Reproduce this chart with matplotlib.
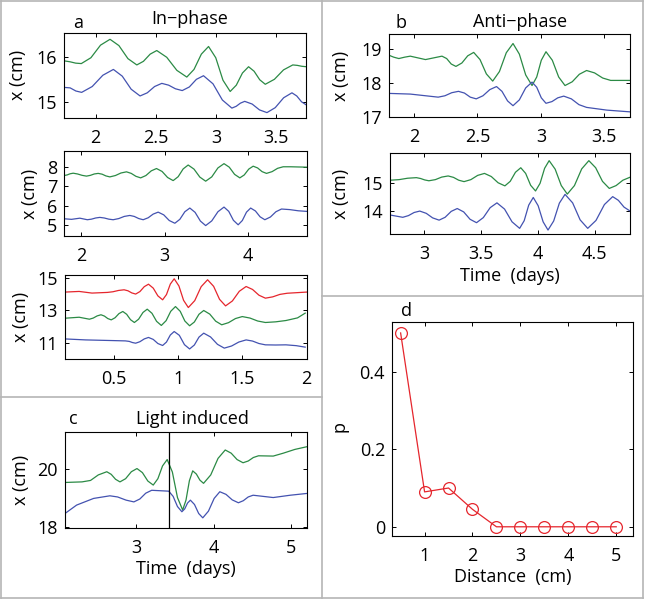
import matplotlib
matplotlib.use("Agg")
import matplotlib.pyplot as plt
from matplotlib.ticker import FormatStrFormatter
from matplotlib.lines import Line2D

# ---------------- data ----------------
# Panel a, top (In-phase)
a1_green_t = [1.739, 1.786, 1.833, 1.88, 1.96, 2.04, 2.119, 2.193, 2.268, 2.342, 2.397, 2.453, 2.508,
              2.591, 2.675, 2.758, 2.818, 2.879, 2.939, 2.999, 3.059, 3.119, 3.17, 3.221, 3.272,
              3.318, 3.365, 3.411, 3.487, 3.563, 3.64, 3.678, 3.715, 3.753]
a1_green_x = [15.92, 15.90, 15.87, 15.86, 15.99, 16.27, 16.40, 16.26, 15.97, 15.83, 15.91, 16.07, 16.15,
              16.00, 15.71, 15.56, 15.73, 16.07, 16.24, 15.99, 15.49, 15.24, 15.38, 15.65, 15.79,
              15.69, 15.50, 15.40, 15.51, 15.72, 15.83, 15.82, 15.80, 15.79]
a1_blue_t = [1.739, 1.787, 1.835, 1.883, 1.971, 2.059, 2.147, 2.221, 2.295, 2.369, 2.429, 2.49, 2.55,
             2.607, 2.663, 2.72, 2.779, 2.838, 2.897, 2.976, 3.054, 3.133, 3.169, 3.204, 3.24,
             3.302, 3.363, 3.425, 3.494, 3.564, 3.633, 3.673, 3.713, 3.753]
a1_blue_x = [15.33, 15.32, 15.25, 15.22, 15.35, 15.60, 15.73, 15.58, 15.29, 15.14, 15.21, 15.35, 15.42,
             15.38, 15.30, 15.26, 15.34, 15.51, 15.59, 15.41, 15.05, 14.87, 14.91, 14.98, 15.02,
             14.96, 14.83, 14.77, 14.88, 15.10, 15.21, 15.14, 15.01, 14.94]

# Panel a, middle
a2_green_t = [1.79, 1.827, 1.863, 1.90, 1.953, 2.007, 2.06, 2.107, 2.153, 2.20, 2.247, 2.293, 2.34,
              2.407, 2.473, 2.54, 2.597, 2.653, 2.71, 2.773, 2.837, 2.90, 2.967, 3.033, 3.10, 3.16,
              3.22, 3.28, 3.35, 3.42, 3.49, 3.563, 3.637, 3.71, 3.773, 3.837, 3.90, 3.953, 4.007,
              4.06, 4.113, 4.167, 4.22, 4.287, 4.353, 4.42, 4.51, 4.60, 4.70]
a2_green_x = [7.55, 7.58, 7.64, 7.67, 7.63, 7.56, 7.52, 7.56, 7.63, 7.66, 7.62, 7.53, 7.48,
              7.55, 7.68, 7.74, 7.66, 7.51, 7.43, 7.55, 7.79, 7.91, 7.76, 7.45, 7.29, 7.49,
              7.89, 8.09, 7.88, 7.47, 7.26, 7.48, 7.94, 8.16, 7.98, 7.61, 7.43, 7.58, 7.88,
              8.03, 7.94, 7.75, 7.66, 7.75, 7.92, 8.00, 8.00, 7.99, 7.98]
a2_blue_t = [1.79, 1.88, 1.98, 2.07, 2.12, 2.17, 2.22, 2.273, 2.327, 2.38, 2.447, 2.513, 2.58, 2.633,
             2.687, 2.74, 2.80, 2.86, 2.92, 2.987, 3.053, 3.12, 3.18, 3.24, 3.30, 3.363, 3.427,
             3.49, 3.563, 3.637, 3.71, 3.767, 3.823, 3.88, 3.93, 3.98, 4.03, 4.087, 4.143, 4.20,
             4.267, 4.333, 4.40, 4.50, 4.60, 4.70]
a2_blue_x = [5.33, 5.30, 5.36, 5.28, 5.31, 5.37, 5.40, 5.37, 5.31, 5.28, 5.34, 5.45, 5.50, 5.45,
             5.34, 5.28, 5.38, 5.57, 5.67, 5.53, 5.24, 5.10, 5.30, 5.69, 5.88, 5.66, 5.21,
             4.98, 5.22, 5.69, 5.93, 5.71, 5.25, 5.02, 5.24, 5.67, 5.88, 5.73, 5.43, 5.28,
             5.42, 5.69, 5.83, 5.80, 5.74, 5.71]

# Panel a, bottom
a3_red_t = [0.12, 0.23, 0.33, 0.45, 0.493, 0.537, 0.58, 0.61, 0.64, 0.67, 0.703, 0.737, 0.77, 0.807,
            0.843, 0.88, 0.91, 0.94, 0.97, 1.007, 1.043, 1.08, 1.13, 1.18, 1.23, 1.277, 1.323,
            1.37, 1.423, 1.477, 1.53, 1.58, 1.63, 1.68, 1.737, 1.793, 1.85, 2.0]
a3_red_x = [14.12, 14.16, 14.06, 14.10, 14.14, 14.22, 14.26, 14.20, 14.07, 14.00, 14.15, 14.45,
            14.60, 14.36, 13.89, 13.65, 13.97, 14.61, 14.93, 14.49, 13.62, 13.18, 13.60, 14.45,
            14.87, 14.47, 13.68, 13.28, 13.58, 14.17, 14.46, 14.28, 13.93, 13.75, 13.83, 13.98,
            14.05, 14.12]
a3_green_t = [0.12, 0.23, 0.31, 0.34, 0.37, 0.40, 0.427, 0.453, 0.48, 0.51, 0.54, 0.57, 0.60, 0.63,
              0.66, 0.693, 0.727, 0.76, 0.797, 0.833, 0.87, 0.907, 0.943, 0.98, 1.017, 1.053,
              1.09, 1.127, 1.163, 1.20, 1.247, 1.293, 1.34, 1.393, 1.447, 1.50, 1.56, 1.62, 1.68,
              1.76, 1.84, 1.93, 1.99]
a3_green_x = [12.53, 12.59, 12.47, 12.54, 12.67, 12.74, 12.66, 12.51, 12.43, 12.56, 12.81, 12.94,
              12.77, 12.44, 12.27, 12.47, 12.88, 13.08, 12.83, 12.34, 12.09, 12.38, 12.95, 13.24,
              12.95, 12.36, 12.07, 12.30, 12.77, 13.00, 12.78, 12.35, 12.13, 12.26, 12.51, 12.63,
              12.54, 12.36, 12.27, 12.31, 12.39, 12.55, 12.84]
a3_blue_t = [0.12, 0.28, 0.49, 0.59, 0.62, 0.645, 0.67, 0.703, 0.737, 0.77, 0.807, 0.843, 0.88, 0.91,
             0.94, 0.97, 1.01, 1.05, 1.09, 1.127, 1.163, 1.20, 1.253, 1.307, 1.36, 1.417, 1.473,
             1.53, 1.58, 1.63, 1.68, 1.76, 1.84, 1.92, 1.99]
a3_blue_x = [11.27, 11.21, 11.17, 11.15, 11.12, 11.05, 11.01, 11.10, 11.27, 11.36, 11.24, 10.99,
             10.87, 11.08, 11.51, 11.72, 11.49, 10.92, 10.66, 10.90, 11.38, 11.62, 11.39, 10.94,
             10.71, 10.84, 11.08, 11.21, 11.14, 10.99, 10.91, 10.90, 10.91, 10.86, 10.77]

# Panel b, top (Anti-phase)
b1_green_t = [1.80, 1.84, 1.88, 1.925, 1.97, 2.03, 2.09, 2.155, 2.22, 2.257, 2.293, 2.33, 2.377,
              2.423, 2.47, 2.52, 2.57, 2.62, 2.673, 2.727, 2.78, 2.83, 2.88, 2.93, 2.967, 3.003,
              3.04, 3.09, 3.14, 3.19, 3.247, 3.303, 3.36, 3.423, 3.487, 3.55, 3.70]
b1_green_x = [18.82, 18.76, 18.72, 18.76, 18.79, 18.74, 18.69, 18.74, 18.79, 18.72, 18.56, 18.49,
              18.59, 18.80, 18.90, 18.69, 18.27, 18.06, 18.34, 18.89, 19.16, 18.85, 18.24, 17.93,
              18.18, 18.67, 18.92, 18.67, 18.18, 17.93, 18.04, 18.26, 18.37, 18.30, 18.15, 18.08,
              18.08]
b1_blue_t = [1.80, 1.97, 2.19, 2.243, 2.297, 2.35, 2.397, 2.443, 2.49, 2.543, 2.597, 2.65, 2.693,
             2.737, 2.78, 2.83, 2.88, 2.93, 2.967, 3.003, 3.04, 3.087, 3.133, 3.18, 3.24, 3.30,
             3.36, 3.52, 3.70]
b1_blue_x = [17.70, 17.68, 17.59, 17.63, 17.72, 17.76, 17.71, 17.59, 17.54, 17.63, 17.81, 17.90,
             17.76, 17.48, 17.34, 17.51, 17.86, 18.03, 17.88, 17.57, 17.41, 17.46, 17.57, 17.62,
             17.54, 17.37, 17.29, 17.21, 17.16]

# Panel b, bottom
b2_green_t = [2.70, 2.777, 2.853, 2.93, 2.967, 3.003, 3.04, 3.097, 3.153, 3.21, 3.257, 3.303, 3.35,
              3.41, 3.47, 3.53, 3.59, 3.65, 3.71, 3.757, 3.803, 3.85, 3.893, 3.937, 3.98, 4.02,
              4.06, 4.10, 4.153, 4.207, 4.26, 4.323, 4.387, 4.45, 4.51, 4.57, 4.63, 4.69, 4.75,
              4.81]
b2_green_x = [15.09, 15.11, 15.16, 15.18, 15.15, 15.10, 15.07, 15.11, 15.20, 15.24, 15.19, 15.09,
              15.04, 15.11, 15.26, 15.33, 15.22, 15.00, 14.89, 15.05, 15.37, 15.53, 15.33, 14.91,
              14.71, 14.98, 15.51, 15.78, 15.48, 14.90, 14.60, 14.90, 15.49, 15.78, 15.53, 15.05,
              14.80, 14.90, 15.09, 15.19]
b2_blue_t = [2.70, 2.755, 2.81, 2.86, 2.91, 2.96, 3.017, 3.073, 3.13, 3.183, 3.237, 3.29, 3.347,
             3.403, 3.46, 3.52, 3.58, 3.64, 3.707, 3.773, 3.84, 3.88, 3.92, 3.96, 4.003, 4.047,
             4.09, 4.14, 4.19, 4.24, 4.307, 4.373, 4.44, 4.513, 4.587, 4.66, 4.71, 4.76, 4.81]
b2_blue_x = [13.86, 13.82, 13.78, 13.84, 13.95, 14.00, 13.92, 13.76, 13.68, 13.78, 13.99, 14.09,
             13.97, 13.71, 13.59, 13.77, 14.12, 14.29, 14.07, 13.62, 13.39, 13.66, 14.21, 14.48,
             14.19, 13.62, 13.33, 13.65, 14.28, 14.59, 14.29, 13.69, 13.39, 13.67, 14.23, 14.51,
             14.38, 14.14, 14.01]

# Panel c (Light induced)
c_green_t = [2.08, 2.30, 2.41, 2.51, 2.62, 2.677, 2.733, 2.79, 2.863, 2.937, 3.01, 3.08, 3.15, 3.22,
             3.28, 3.34, 3.40, 3.467, 3.533, 3.60, 3.643, 3.687, 3.73, 3.777, 3.823, 3.87, 3.963,
             4.057, 4.15, 4.227, 4.303, 4.38, 4.447, 4.513, 4.58, 4.77, 4.90, 5.05, 5.20]
c_green_x = [19.54, 19.56, 19.61, 19.80, 19.91, 19.82, 19.65, 19.56, 19.67, 19.91, 20.02, 19.88,
             19.59, 19.45, 19.67, 20.11, 20.33, 19.90, 19.02, 18.59, 18.93, 19.60, 19.94, 19.83,
             19.62, 19.51, 19.80, 20.37, 20.66, 20.55, 20.33, 20.22, 20.28, 20.40, 20.46, 20.45,
             20.55, 20.68, 20.77]
c_blue_t = [2.08, 2.23, 2.45, 2.66, 2.76, 2.87, 2.97, 3.047, 3.123, 3.20, 3.42, 3.477, 3.533, 3.59,
            3.627, 3.663, 3.70, 3.753, 3.807, 3.86, 3.933, 4.007, 4.08, 4.16, 4.24, 4.32, 4.383,
            4.447, 4.51, 4.77, 4.99, 5.20]
c_blue_x = [18.47, 18.76, 18.99, 19.08, 19.04, 18.93, 18.87, 18.97, 19.17, 19.27, 19.24, 19.06,
            18.71, 18.53, 18.63, 18.83, 18.93, 18.78, 18.47, 18.32, 18.55, 18.99, 19.22, 19.13,
            18.94, 18.84, 18.91, 19.04, 19.10, 19.02, 19.10, 19.16]
light_on = 3.43

# Panel d
d_distance = [0.5, 1, 1.5, 2, 2.5, 3, 3.5, 4, 4.5, 5]
d_p = [0.50, 0.09, 0.10, 0.045, 0, 0, 0, 0, 0, 0]

# ---------------- styling ----------------
GREEN = "#2b8a45"
BLUE = "#4352b0"
RED = "#e5262d"
FONT = ["Open Sans", "DejaVu Sans"]
FS = 13
plt.rcParams["font.family"] = FONT
plt.rcParams["font.size"] = FS

W, H = 646, 600
fig = plt.figure(figsize=(W / 100, H / 100), dpi=100)


def add_axes(x0, y0, x1, y1):
    ax = fig.add_axes([x0 / W, 1 - y1 / H, (x1 - x0) / W, (y1 - y0) / H])
    ax.tick_params(direction="in", top=True, right=True, length=3, width=0.7, labelsize=FS)
    ax.tick_params(axis="x", pad=8)
    ax.tick_params(axis="y", pad=5)
    for s in ax.spines.values():
        s.set_linewidth(0.8)
    ax.xaxis.set_major_formatter(FormatStrFormatter("%g"))
    ax.yaxis.set_major_formatter(FormatStrFormatter("%g"))
    return ax


LW = 0.9

# a1
ax = add_axes(64, 33, 306, 118)
ax.plot(a1_green_t, a1_green_x, color=GREEN, lw=LW)
ax.plot(a1_blue_t, a1_blue_x, color=BLUE, lw=LW)
ax.set_xlim(1.736, 3.75)
ax.set_ylim(14.65, 16.54)
ax.set_xticks([2, 2.5, 3, 3.5])
ax.set_yticks([15, 16])

# a2
ax = add_axes(64, 151, 306.5, 235.7)
ax.plot(a2_green_t, a2_green_x, color=GREEN, lw=LW)
ax.plot(a2_blue_t, a2_blue_x, color=BLUE, lw=LW)
ax.set_xlim(1.79, 4.70)
ax.set_ylim(4.46, 8.81)
ax.set_xticks([2, 3, 4])
ax.set_yticks([5, 6, 7, 8])

# a3
ax = add_axes(65, 275, 306.5, 359.3)
ax.plot(a3_red_t, a3_red_x, color=RED, lw=LW)
ax.plot(a3_green_t, a3_green_x, color=GREEN, lw=LW)
ax.plot(a3_blue_t, a3_blue_x, color=BLUE, lw=LW)
ax.set_xlim(0.12, 2.0)
ax.set_ylim(10.03, 15.16)
ax.set_xticks([0.5, 1, 1.5, 2])
ax.set_yticks([11, 13, 15])

# c
ax = add_axes(65, 432.3, 306.5, 527.7)
ax.plot(c_green_t, c_green_x, color=GREEN, lw=LW)
ax.plot(c_blue_t, c_blue_x, color=BLUE, lw=LW)
ax.axvline(light_on, color="black", lw=0.9)
ax.set_xlim(2.08, 5.2)
ax.set_ylim(17.98, 21.27)
ax.set_xticks([3, 4, 5])
ax.set_yticks([18, 20])
ax.set_xlabel("Time  (days)", labelpad=2.5)

# b1
ax = add_axes(388.7, 34.3, 629.7, 117.3)
ax.plot(b1_green_t, b1_green_x, color=GREEN, lw=LW)
ax.plot(b1_blue_t, b1_blue_x, color=BLUE, lw=LW)
ax.set_xlim(1.80, 3.70)
ax.set_ylim(17.0, 19.43)
ax.set_xticks([2, 2.5, 3, 3.5])
ax.set_yticks([17, 18, 19])

# b2
ax = add_axes(390.3, 153.3, 629.7, 234.3)
ax.plot(b2_green_t, b2_green_x, color=GREEN, lw=LW)
ax.plot(b2_blue_t, b2_blue_x, color=BLUE, lw=LW)
ax.set_xlim(2.70, 4.81)
ax.set_ylim(13.18, 16.04)
ax.set_xticks([3, 3.5, 4, 4.5])
ax.set_yticks([14, 15])
ax.set_xlabel("Time  (days)", labelpad=2.5)

# d
ax = add_axes(392, 321.7, 633, 535.7)
ax.plot(d_distance, d_p, color=RED, lw=0.9, marker="o", markersize=8.5,
        markerfacecolor="none", markeredgecolor=RED, markeredgewidth=0.9)
ax.set_xlim(0.32, 5.35)
ax.set_ylim(-0.023, 0.529)
ax.set_xticks([1, 2, 3, 4, 5])
ax.set_yticks([0, 0.2, 0.4])
ax.set_xlabel("Distance  (cm)", labelpad=2.5)

# y labels
for (x, y) in [(18, 75), (30, 194), (21, 317), (21, 480), (341, 76), (341, 194)]:
    fig.text(x / W, 1 - y / H, "x (cm)", rotation=90, ha="center", va="center", fontsize=FS)
fig.text(340 / W, 1 - 427 / H, "p", rotation=90, ha="center", va="center", fontsize=FS)

# panel letters and titles
fig.text(78 / W, 1 - 23 / H, "a", ha="center", va="center", fontsize=FS)
fig.text(190 / W, 1 - 19 / H, "In\u2212phase", ha="center", va="center", fontsize=FS)
fig.text(401 / W, 1 - 23 / H, "b", ha="center", va="center", fontsize=FS)
fig.text(520 / W, 1 - 22 / H, "Anti\u2212phase", ha="center", va="center", fontsize=FS)
fig.text(73 / W, 1 - 419 / H, "c", ha="center", va="center", fontsize=FS)
fig.text(192 / W, 1 - 419 / H, "Light induced", ha="center", va="center", fontsize=FS)
fig.text(406 / W, 1 - 311 / H, "d", ha="center", va="center", fontsize=FS)

# panel frames
GRAY = "#b5b5b5"
def fline(x0, y0, x1, y1):
    fig.add_artist(Line2D([x0 / W, x1 / W], [1 - y0 / H, 1 - y1 / H], color=GRAY, lw=1.2,
                          transform=fig.transFigure))

fline(0.8, 0.8, 643.3, 0.8)
fline(0.8, 597.5, 643.3, 597.5)
fline(0.8, 0.8, 0.8, 597.5)
fline(643.3, 0.8, 643.3, 597.5)
fline(322.3, 0.8, 322.3, 597.5)
fline(0.8, 396.7, 322.3, 396.7)
fline(322.3, 296, 643.3, 296)

fig.savefig("out.png", dpi=100)
